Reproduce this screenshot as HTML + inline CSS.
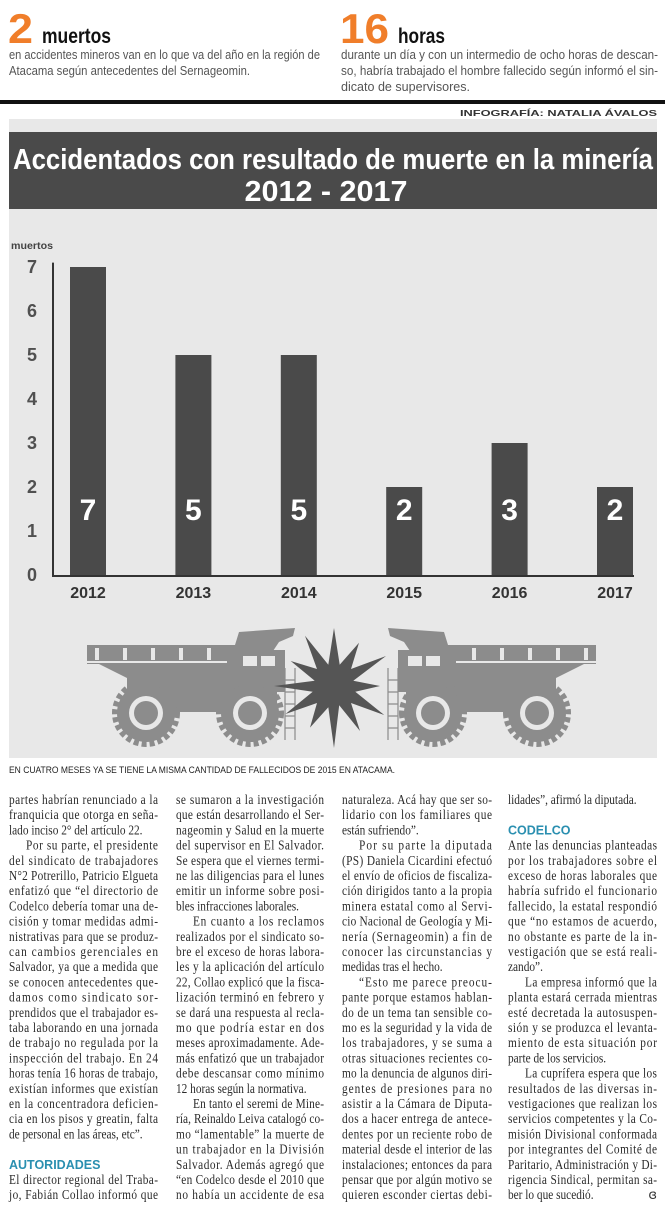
<!DOCTYPE html>
<html><head><meta charset="utf-8">
<style>
html,body{margin:0;padding:0;background:#fff;}
svg{display:block;}
.sans{font-family:"Liberation Sans",sans-serif;}
.serif{font-family:"Liberation Serif",serif;}
</style></head>
<body>
<svg id="page" width="665" height="1214" viewBox="0 0 665 1214" xmlns="http://www.w3.org/2000/svg">
  <g class="sans">
    <text x="8" y="43" font-size="42" font-weight="bold" fill="#f07e2a" textLength="25" lengthAdjust="spacingAndGlyphs">2</text>
    <text x="42" y="43" font-size="21" font-weight="bold" fill="#111" textLength="69" lengthAdjust="spacingAndGlyphs">muertos</text>
    <text x="9" y="59" font-size="13" fill="#555" textLength="311" lengthAdjust="spacingAndGlyphs">en accidentes mineros van en lo que va del año en la región de</text>
    <text x="9" y="75" font-size="13" fill="#555" textLength="241" lengthAdjust="spacingAndGlyphs">Atacama según antecedentes del Sernageomin.</text>
  </g>
  <g class="sans">
    <text x="340" y="43" font-size="42" font-weight="bold" fill="#f07e2a" textLength="49" lengthAdjust="spacingAndGlyphs">16</text>
    <text x="398" y="43" font-size="21" font-weight="bold" fill="#111" textLength="47" lengthAdjust="spacingAndGlyphs">horas</text>
    <text x="341" y="59" font-size="13" fill="#555" textLength="317" lengthAdjust="spacingAndGlyphs">durante un día y con un intermedio de ocho horas de descan-</text>
    <text x="341" y="75" font-size="13" fill="#555" textLength="317" lengthAdjust="spacingAndGlyphs">so, habría trabajado el hombre fallecido según informó el sin-</text>
    <text x="341" y="91" font-size="13" fill="#555" textLength="129" lengthAdjust="spacingAndGlyphs">dicato de supervisores.</text>
  </g>
  <rect x="0" y="100" width="665" height="4" fill="#111"/>
  <text class="sans" x="657" y="116" font-size="8.5" font-weight="bold" fill="#333" text-anchor="end" textLength="197" lengthAdjust="spacingAndGlyphs">INFOGRAFÍA: NATALIA ÁVALOS</text>

  <rect x="9" y="119" width="648" height="639" fill="#e8e8e8"/>
  <rect x="9" y="132" width="648" height="77" fill="#4a4a4a"/>
  <text class="sans" x="333" y="169" font-size="29" font-weight="bold" fill="#fff" text-anchor="middle" textLength="640" lengthAdjust="spacingAndGlyphs">Accidentados con resultado de muerte en la minería</text>
  <text class="sans" x="326" y="201" font-size="29" font-weight="bold" fill="#fff" text-anchor="middle" textLength="163" lengthAdjust="spacingAndGlyphs">2012 - 2017</text>
  <text class="sans" x="11" y="249" font-size="10.5" font-weight="bold" fill="#444" textLength="42" lengthAdjust="spacingAndGlyphs">muertos</text>
  <g id="chart"></g>

  <defs>
    <g id="truck">
      <path d="M0,17 L148,17 L152,4 L208,0 L206,8 L192,14 L180,32 L172,52 L150,60 L70,62 L40,50 L12,36 L0,36 Z" fill="#8c8c8c"/>
      <rect x="8" y="20" width="4" height="12" fill="#e8e8e8"/>
      <rect x="36" y="20" width="4" height="12" fill="#e8e8e8"/>
      <rect x="64" y="20" width="4" height="12" fill="#e8e8e8"/>
      <rect x="92" y="20" width="4" height="12" fill="#e8e8e8"/>
      <rect x="120" y="20" width="4" height="12" fill="#e8e8e8"/>
      <rect x="0" y="33" width="140" height="2" fill="#e8e8e8"/>
      <rect x="40" y="48" width="150" height="36" fill="#8c8c8c"/>
      <rect x="148" y="22" width="50" height="42" fill="#8c8c8c"/>
      <rect x="156" y="28" width="14" height="10" fill="#e8e8e8"/>
      <rect x="174" y="28" width="14" height="10" fill="#e8e8e8"/>
      <path d="M198,40 V112 M208,40 V112 M198,52 H208 M198,64 H208 M198,76 H208 M198,88 H208 M198,100 H208" stroke="#8c8c8c" stroke-width="1.2" fill="none"/>
      <circle cx="59" cy="85" r="31" fill="none" stroke="#8c8c8c" stroke-width="6" stroke-dasharray="5 3"/>
      <circle cx="59" cy="85" r="29" fill="#8c8c8c"/>
      <circle cx="59" cy="85" r="17" fill="#e8e8e8"/>
      <circle cx="59" cy="85" r="12" fill="#8c8c8c"/>
      <circle cx="163" cy="85" r="31" fill="none" stroke="#8c8c8c" stroke-width="6" stroke-dasharray="5 3"/>
      <circle cx="163" cy="85" r="29" fill="#8c8c8c"/>
      <circle cx="163" cy="85" r="17" fill="#e8e8e8"/>
      <circle cx="163" cy="85" r="12" fill="#8c8c8c"/>
    </g>
  </defs>
  <use href="#truck" transform="translate(87,628)"/>
  <use href="#truck" transform="translate(596,628) scale(-1,1)"/>
  <polygon id="star" fill="#555" points=""/>

  <text class="sans" x="9" y="773" font-size="9.5" fill="#222" textLength="386" lengthAdjust="spacingAndGlyphs">EN CUATRO MESES YA SE TIENE LA MISMA CANTIDAD DE FALLECIDOS DE 2015 EN ATACAMA.</text>

  <g id="cols" class="serif"></g>
  <text font-family="DejaVu Sans, sans-serif" x="657" y="1199" font-size="13" fill="#333" text-anchor="end">ɞ</text>
</svg>
<script>
const years = ["2012","2013","2014","2015","2016","2017"];
const deaths = [7,5,5,2,3,2];
const yTicks = [0,1,2,3,4,5,6,7];

const NS = "http://www.w3.org/2000/svg";
const chart = document.getElementById("chart");
const y0 = 575, unit = 44;
function yScale(v){ return y0 - v*unit; }
function xScale(i){ return 88 + i*105.4; }
const barW = 36;
function mk(tag, attrs, parent){
  const e = document.createElementNS(NS, tag);
  for (const k in attrs) e.setAttribute(k, attrs[k]);
  parent.appendChild(e);
  return e;
}
const yAxis = mk("line",{x1:53,y1:yScale(7.1),x2:53,y2:y0+1,stroke:"#333","stroke-width":2},chart);


yTicks.forEach(t=>{
  const tx = mk("text",{x:32,y:yScale(t)+6,"font-size":18,"font-family":"Liberation Sans, sans-serif","font-weight":"bold",fill:"#505050","text-anchor":"middle"},chart);
  tx.textContent = t;
  
  
});
years.forEach((yr,i)=>{
  const cx = xScale(i);
  const b = mk("rect",{x:cx-barW/2,y:yScale(deaths[i]),width:barW,height:y0-yScale(deaths[i]),fill:"#4a4a4a"},chart);
  
  
  const v = mk("text",{x:cx,y:yScale(1.5)+11,"font-size":30,"font-family":"Liberation Sans, sans-serif","font-weight":"bold",fill:"#fff","text-anchor":"middle"},chart);
  v.textContent = deaths[i];
  
  
  const l = mk("text",{x:cx,y:598,"font-size":16,"font-family":"Liberation Sans, sans-serif","font-weight":"bold",fill:"#333","text-anchor":"middle"},chart);
  l.textContent = yr;
  
  
});
const xAxis = mk("line",{x1:52,y1:y0+1,x2:634,y2:y0+1,stroke:"#333","stroke-width":2},chart);



const radii=[58,22,50,24,60,20,46,22,58,24,52,20,62,22,48,24,56,22,60,20,50,24,58,22];
let pts=[];
radii.forEach((r,i)=>{const a=i/radii.length*Math.PI*2-Math.PI/2;pts.push((334+r*Math.cos(a)).toFixed(1)+","+(686+r*Math.sin(a)).toFixed(1));});
document.getElementById("star").setAttribute("points",pts.join(" "));

const columns = [
 {x:9,w:149,lines:[
 "partes habrían renunciado a la","franquicia que otorga en seña-","lado inciso 2° del artículo 22.|",
 ">Por su parte, el presidente","del sindicato de trabajadores","N°2 Potrerillo, Patricio Elgueta","enfatizó que “el directorio de","Codelco debería tomar una de-","cisión y tomar medidas admi-","nistrativas para que se produz-","can cambios gerenciales en","Salvador, ya que a medida que","se conocen antecedentes que-","damos como sindicato sor-","prendidos que el trabajador es-","taba laborando en una jornada","de trabajo no regulada por la","inspección del trabajo. En 24","horas tenía 16 horas de trabajo,","existían informes que existían","en la concentradora deficien-","cia en los pisos y greatin, falta","de personal en las áreas, etc”.|",
 "","#AUTORIDADES","El director regional del Traba-","jo, Fabián Collao informó que"]},
 {x:176,w:148,lines:[
 "se sumaron a la investigación","que están desarrollando el Ser-","nageomin y Salud en la muerte","del supervisor en El Salvador.","Se espera que el viernes termi-","ne las diligencias para el lunes","emitir un informe sobre posi-","bles infracciones laborales.|",
 ">En cuanto a los reclamos","realizados por el sindicato so-","bre el exceso de horas labora-","les y la aplicación del artículo","22, Collao explicó que la fisca-","lización terminó en febrero y","se dará una respuesta al recla-","mo que podría estar en dos","meses aproximadamente. Ade-","más enfatizó que un trabajador","debe descansar como mínimo","12 horas según la normativa.|",
 ">En tanto el seremi de Mine-","ría, Reinaldo Leiva catalogó co-","mo “lamentable” la muerte de","un trabajador en la División","Salvador. Además agregó que","“en Codelco desde el 2010 que","no había un accidente de esa"]},
 {x:342,w:150,lines:[
 "naturaleza. Acá hay que ser so-","lidario con los familiares que","están sufriendo”.|",
 ">Por su parte la diputada","(PS) Daniela Cicardini efectuó","el envío de oficios de fiscaliza-","ción dirigidos tanto a la propia","minera estatal como al Servi-","cio Nacional de Geología y Mi-","nería (Sernageomin) a fin de","conocer las circunstancias y","medidas tras el hecho.|",
 ">“Esto me parece preocu-","pante porque estamos hablan-","do de un tema tan sensible co-","mo es la seguridad y la vida de","los trabajadores, y se suma a","otras situaciones recientes co-","mo la denuncia de algunos diri-","gentes de presiones para no","asistir a la Cámara de Diputa-","dos a hacer entrega de antece-","dentes por un reciente robo de","material desde el interior de las","instalaciones; entonces da para","pensar que por algún motivo se","quieren esconder ciertas debi-"]},
 {x:508,w:149,lines:[
 "lidades”, afirmó la diputada.|","","#CODELCO",
 "Ante las denuncias planteadas","por los trabajadores sobre el","exceso de horas laborales que","habría sufrido el funcionario","fallecido, la estatal respondió","que “no estamos de acuerdo,","no obstante es parte de la in-","vestigación que se está reali-","zando”.|",
 ">La empresa informó que la","planta estará cerrada mientras","esté decretada la autosuspen-","sión y se produzca el levanta-","miento de esta situación por","parte de los servicios.|",
 ">La cuprífera espera que los","resultados de las diversas in-","vestigaciones que realizan los","servicios competentes y la Co-","misión Divisional conformada","por integrantes del Comité de","Paritario, Administración y Di-","rigencia Sindical, permitan sa-","ber lo que sucedió.|"]}
];
const K = 0.84; // horizontal condensation
const colsG = document.getElementById("cols");
columns.forEach((c,ci)=>{
  const g = mk("g",{},colsG);
  
  
  c.lines.forEach((raw,i)=>{
    if(raw==="") return;
    const y = 804 + i*15.2;
    let s = raw, indent = 0, last = false;
    if(s[0]==="#"){
      const h = mk("text",{x:c.x,y:y,"font-size":12.5,"font-family":"Liberation Sans, sans-serif","font-weight":"bold",fill:"#2a8fb0"},g);
      h.textContent = s.slice(1);
      
      
      return;
    }
    if(s[0]===">"){ indent = 17; s = s.slice(1); }
    if(s[s.length-1]==="|"){ last = true; s = s.slice(0,-1); }
    const t = mk("text",{x:((c.x+indent)/K).toFixed(2),y:y,"font-size":13.5,fill:"#2a2a2a",transform:"scale("+K+",1)"},g);
    t.textContent = s;
    
    
    const nat = t.getComputedTextLength();
    const target = (c.w-indent)/K;
    if(!last){
      t.setAttribute("textLength", target.toFixed(1));
      t.setAttribute("lengthAdjust", nat > target ? "spacingAndGlyphs" : "spacing");
    } else if (nat > target){
      t.setAttribute("textLength", target.toFixed(1));
      t.setAttribute("lengthAdjust","spacingAndGlyphs");
    }
  });
});
</script>
</body></html>
